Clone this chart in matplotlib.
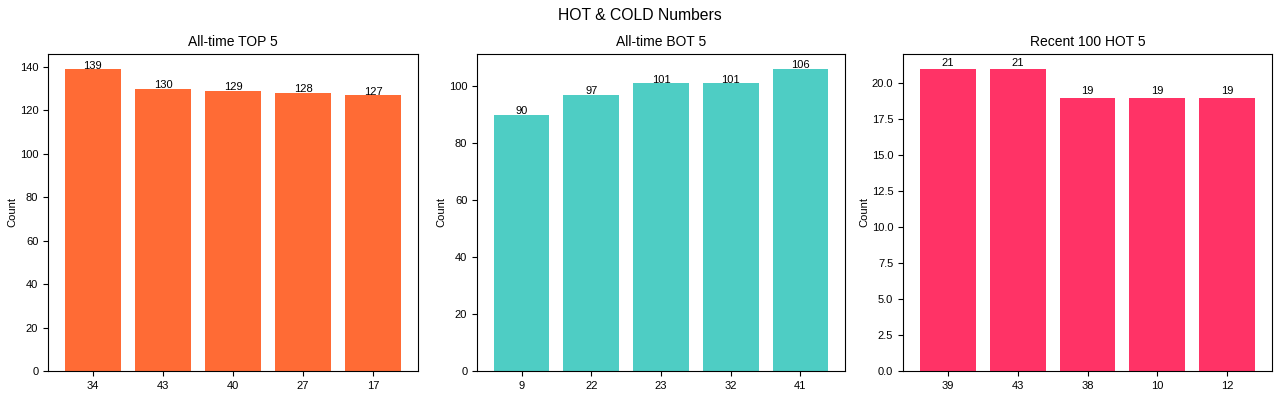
import matplotlib

matplotlib.use("Agg")

import matplotlib.pyplot as plt

plt.rcParams['font.family'] = ['Liberation Sans', 'DejaVu Sans']

top_numbers = ['34', '43', '40', '27', '17']
top_counts = [139, 130, 129, 128, 127]

bot_numbers = ['9', '22', '23', '32', '41']
bot_counts = [90, 97, 101, 101, 106]

recent_numbers = ['39', '43', '38', '10', '12']
recent_counts = [21, 21, 19, 19, 19]

panels = [
    ('All-time TOP 5', top_numbers, top_counts, '#FF6B35'),
    ('All-time BOT 5', bot_numbers, bot_counts, '#4ECDC4'),
    ('Recent 100 HOT 5', recent_numbers, recent_counts, '#FF3366'),
]

W, H = 1280, 397
boxes = [(48, 418), (477, 845), (903, 1272)]
top_px, bottom_px = 54, 371

fig, axes = plt.subplots(1, 3, figsize=(12.8, 3.97), dpi=100)

for ax, (title, numbers, counts, color), (l, r) in zip(axes, panels, boxes):
    ax.set_position([l / W, 1 - bottom_px / H, (r - l) / W, (bottom_px - top_px) / H])
    ax.bar(numbers, counts, color=color)
    for i, v in enumerate(counts):
        ax.text(i, v + 0.25, str(v), ha='center', fontsize=8)
    ax.set_title(title, fontsize=10)
    ax.set_ylabel('Count', fontsize=8, labelpad=1.5)
    ax.tick_params(labelsize=8)

fig.suptitle('HOT & COLD Numbers', fontsize=11.3)

plt.savefig('out.png')
